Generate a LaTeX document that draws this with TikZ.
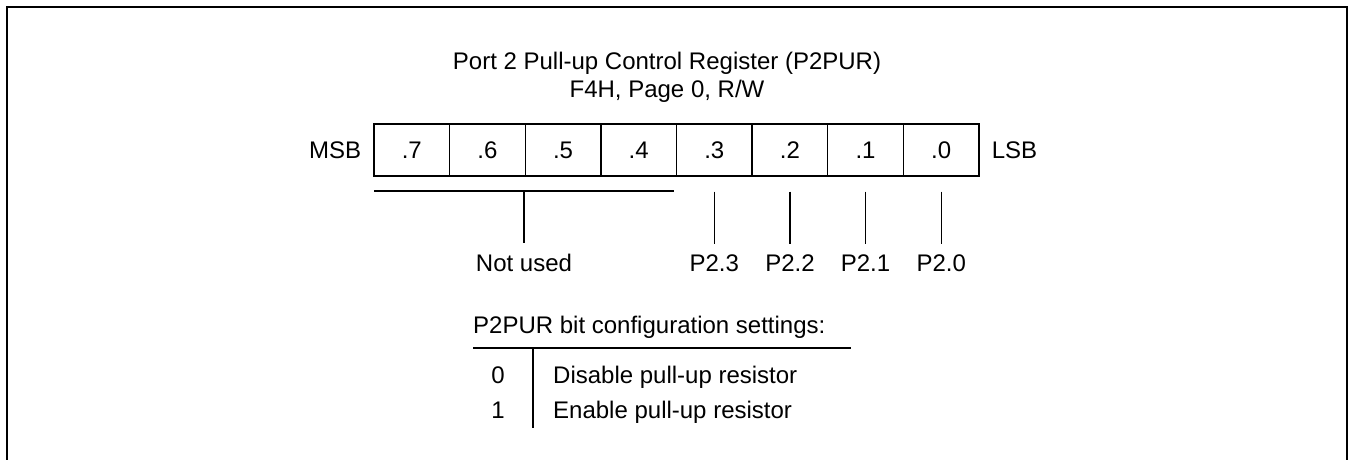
\documentclass[tikz,border=0pt]{standalone}
\usepackage{fontspec}
\setmainfont{Liberation Sans}
\usetikzlibrary{calc, positioning}

\begin{document}
\begin{tikzpicture}[x=1pt, y=-1pt,
    lbl/.style={font=\fontsize{24}{28}\selectfont, inner sep=0pt},
    bitcell/.style={draw, line width=1.3pt, minimum width=75.625pt, minimum height=52pt,
        inner sep=0pt, font=\fontsize{24}{28}\selectfont},
    wire/.style={line width=1.3pt}]
    \useasboundingbox (0,0) rectangle (1349,459);
    % outer frame, open at the bottom
    \draw[line width=2pt] (7,470) -- (7,7) -- (1347,7) -- (1347,470);
    % title
    \node[lbl, anchor=base] (title) at (667,69) {Port 2 Pull-up Control Register (P2PUR)};
    \node[lbl, anchor=base] (addr) at (667,97) {F4H, Page 0, R/W};
    % register cells
    \foreach \b [count=\i from 0] in {7,...,0}
        \node[bitcell] (c\b) at ({374+75.625*(\i+0.5)},150) {.\b};
    \node[lbl, left=12pt of c7] (msb) {MSB};
    \node[lbl, right=12pt of c0] (lsb) {LSB};
    % not used bits
    \coordinate (nuL) at (374,191);
    \coordinate (nuR) at (674,191);
    \coordinate (nuM) at ($(nuL)!0.5!(nuR)$);
    \draw[wire] (nuL) -- (nuR);
    \coordinate (pbase) at (0,271);
    \node[lbl, anchor=base] (notused) at (nuM |- pbase) {Not used};
    \draw[wire] (nuM) -- ([yshift=10pt]notused.north);
    % port pins
    \foreach \b in {3,...,0} {
        \node[lbl, anchor=base] (p\b) at (c\b |- pbase) {P2.\b};
        \draw[wire] ([yshift=-15pt]c\b.south) -- ([yshift=10pt]p\b.north);
    }
    % settings table
    \node[lbl, anchor=base west] (cfg) at (473,333) {P2PUR bit configuration settings:};
    \coordinate (tL) at (473,348);
    \coordinate (tR) at (851,348);
    \coordinate (vT) at (533,348);
    \coordinate (vB) at (533,428);
    \draw[wire] (tL) -- (tR);
    \draw[wire] (vT) -- (vB);
    \node[lbl, anchor=base] (v0) at (498,383) {0};
    \node[lbl, anchor=base] (v1) at (498,418) {1};
    \node[lbl, anchor=base west] (d0) at (553,383) {Disable pull-up resistor};
    \node[lbl, anchor=base west] (d1) at (553,418) {Enable pull-up resistor};
\end{tikzpicture}
\end{document}
